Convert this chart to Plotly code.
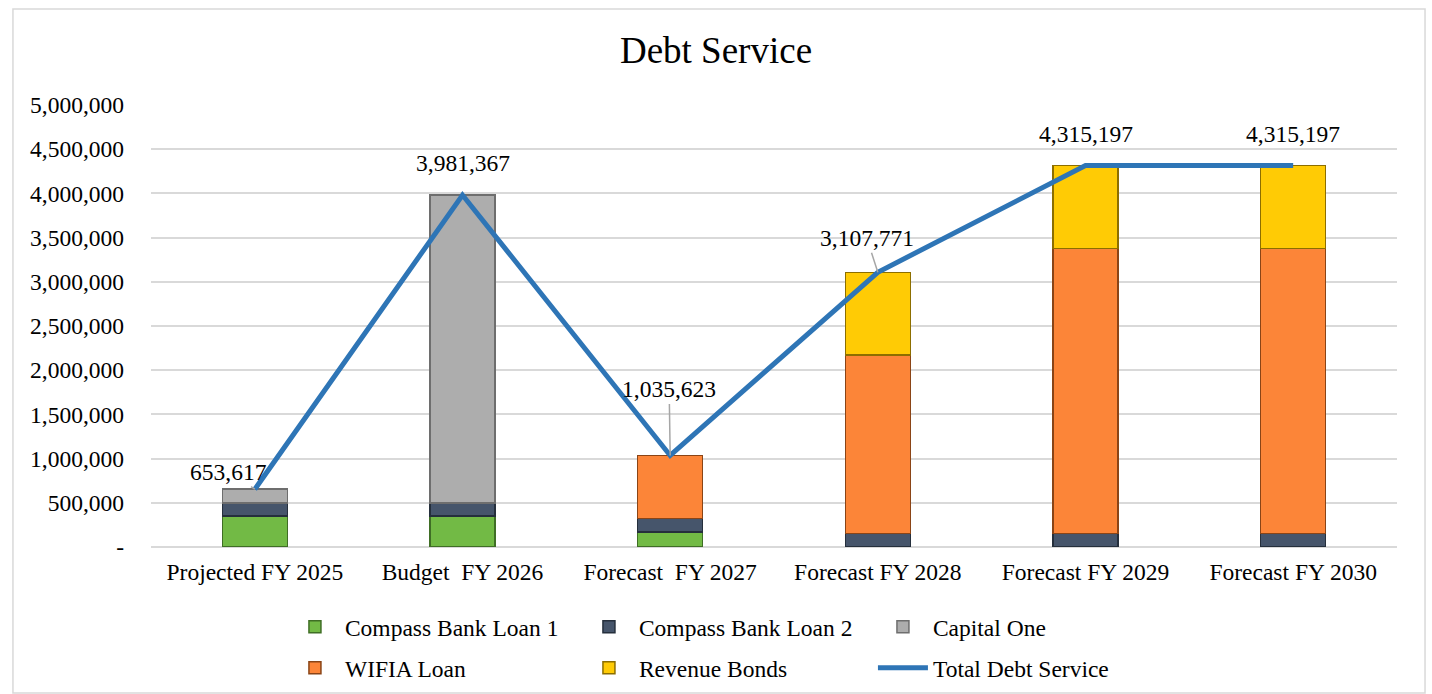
import plotly.graph_objects as go

# Fiscal years shown on the category axis
categories = ["Projected FY 2025", "Budget  FY 2026", "Forecast  FY 2027",
              "Forecast FY 2028", "Forecast FY 2029", "Forecast FY 2030"]

# Annual debt service by source (USD)
compass_bank_loan_1 = [350000, 350000, 170000, None, None, None]
compass_bank_loan_2 = [150000, 150000, 150000, 150000, 150000, 150000]
capital_one = [153617, 3481367, None, None, None, None]
wifia_loan = [None, None, 715623, 2020000, 3225000, 3225000]
revenue_bonds = [None, None, None, 937771, 940197, 940197]
total_debt_service = [653617, 3981367, 1035623, 3107771, 4315197, 4315197]

y_tick_values = [0, 500000, 1000000, 1500000, 2000000, 2500000,
                 3000000, 3500000, 4000000, 4500000, 5000000]

FONT = "Liberation Serif, Times New Roman, serif"
FS = 23.5

# name, values, fill, edge, legend row
series_styles = [
    ("Compass Bank Loan 1", compass_bank_loan_1, "#72BA45", "#3F6E25", "legend"),
    ("Compass Bank Loan 2", compass_bank_loan_2, "#46556B", "#252F3C", "legend"),
    ("Capital One", capital_one, "#ADADAD", "#6E6E6E", "legend"),
    ("WIFIA Loan", wifia_loan, "#FC8538", "#8A4416", "legend2"),
    ("Revenue Bonds", revenue_bonds, "#FFCB05", "#8C6E00", "legend2"),
]

fig = go.Figure()
for name, values, fill, edge, row in series_styles:
    fig.add_trace(go.Bar(
        x=categories, y=values, name=name, legend=row,
        marker=dict(color=fill, line=dict(color=edge, width=1.5)),
    ))

fig.add_trace(go.Scatter(
    x=categories, y=total_debt_service, name="Total Debt Service",
    mode="lines", line=dict(color="#2E75B6", width=5), legend="legend2",
))

# Value labels for the total line: (x offset, y offset, leader line shown)
label_offsets = [(-26, -17, True), (0, -32, False), (-1, -66, True),
                 (-11, -34, True), (0, -32, False), (0, -32, False)]
for cat, val, (dx, dy, leader) in zip(categories, total_debt_service, label_offsets):
    if leader:
        fig.add_annotation(
            x=cat, y=val, text=f"{val:,.0f}", showarrow=True,
            ax=dx, ay=dy, axref="pixel", ayref="pixel",
            arrowhead=0, arrowwidth=1.5, arrowcolor="#A6A6A6", standoff=0,
            font=dict(family=FONT, size=FS, color="#000000"),
        )
    else:
        fig.add_annotation(
            x=cat, y=val, text=f"{val:,.0f}", showarrow=False,
            xshift=dx, yshift=-dy,
            font=dict(family=FONT, size=FS, color="#000000"),
        )

# Chart frame
fig.add_shape(type="rect", xref="paper", yref="paper",
              x0=-0.1108, x1=1.0225, y0=-0.3305, y1=1.2172,
              line=dict(color="#D9D9D9", width=1.5), fillcolor="rgba(0,0,0,0)",
              layer="below")

legend_common = dict(orientation="h", x=0.1075, xanchor="left", yanchor="middle",
                     entrywidth=229, entrywidthmode="pixels",
                     itemwidth=50, tracegroupgap=0, bgcolor="rgba(0,0,0,0)",
                     font=dict(family=FONT, size=FS, color="#000000"),
                     traceorder="normal")

fig.update_layout(
    barmode="stack",
    bargap=0.687,
    width=1432, height=694,
    margin=dict(l=151, r=35, t=105, b=147, autoexpand=False),
    paper_bgcolor="#FFFFFF", plot_bgcolor="#FFFFFF",
    font=dict(family=FONT, size=FS, color="#000000"),
    title=dict(text="Debt Service", x=0.5, xanchor="center",
               y=0.928, yanchor="middle",
               font=dict(family=FONT, size=37, color="#000000")),
    showlegend=True,
    legend=dict(y=-0.181, **legend_common),
    legend2=dict(y=-0.2738, **legend_common),
    xaxis=dict(showgrid=False, showline=False, ticks="",
               tickfont=dict(family=FONT, size=FS),
               ticklabelstandoff=8),
    yaxis=dict(range=[0, 5000000], tickvals=y_tick_values,
               ticktext=["-" if v == 0 else f"{v:,}" for v in y_tick_values],
               showgrid=True, gridcolor="#D9D9D9", gridwidth=2,
               zeroline=True, zerolinecolor="#D9D9D9", zerolinewidth=2,
               showline=False, ticks="",
               tickfont=dict(family=FONT, size=FS),
               ticklabelstandoff=26),
)

fig.write_html("out.html")
